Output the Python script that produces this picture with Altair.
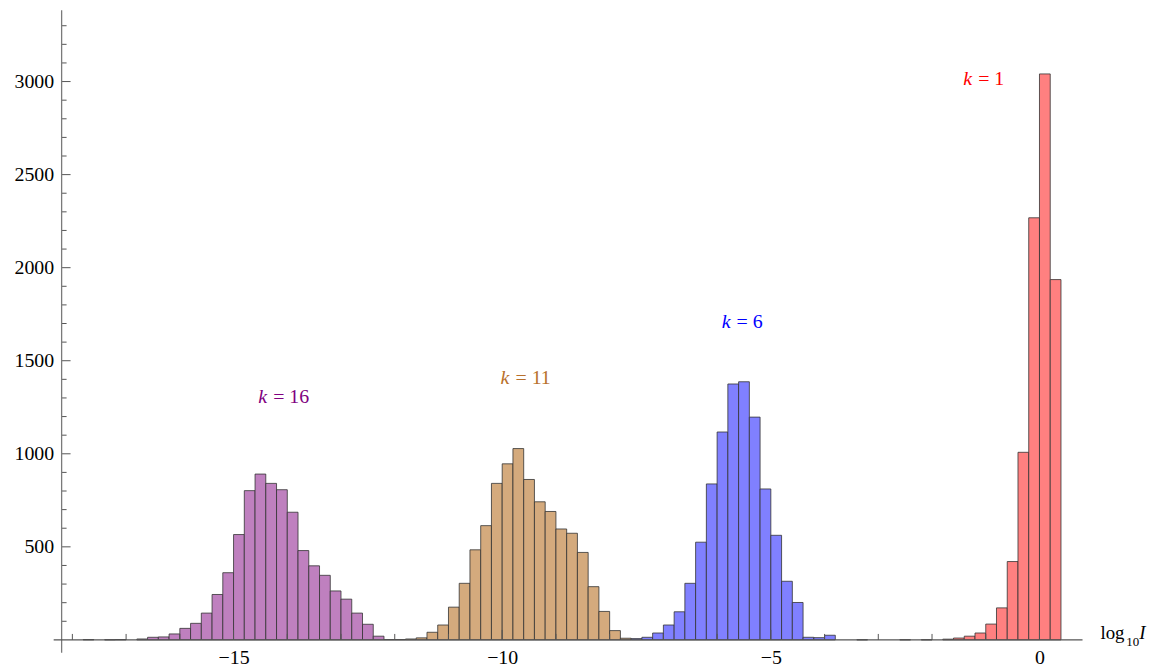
import altair as alt
import pandas as pd

# ---- data (bin width 0.2 in log10 I) ----
BIN = 0.2
series_names = ["k = 16", "k = 11", "k = 6", "k = 1"]
bin_starts = [-17.8, -12.2, -7.6, -2.6]
counts_k16 = [2, 0, 1, 2, 0, 5, 14, 16, 32, 62, 89, 144, 244, 361, 566, 802, 891,
              841, 807, 686, 480, 398, 347, 263, 219, 144, 84, 20]
counts_k11 = [2, 2, 5, 11, 41, 80, 176, 304, 484, 614, 841, 946, 1028, 862, 742,
              690, 596, 573, 470, 286, 153, 50, 9]
counts_k6 = [7, 14, 37, 80, 151, 304, 525, 838, 1117, 1375, 1387, 1197, 811, 562,
             315, 201, 14, 12, 25, 0, 0, 1]
counts_k1 = [1, 0, 1, 0, 4, 10, 20, 37, 85, 172, 421, 1008, 2268, 3041, 1936]
all_counts = [counts_k16, counts_k11, counts_k6, counts_k1]

fill_colors = ["#BF80BF", "#D4AA7D", "#8080FF", "#FF8080"]
label_colors = ["#800080", "#B8702C", "#0000FF", "#FF0000"]
label_rest = ["= 16", "= 11", "= 6", "= 1"]
label_x = [-14.54, -10.03, -5.915, -1.418]
label_y = [1275, 1377, 1676, 2983]

y_major = [500, 1000, 1500, 2000, 2500, 3000]
y_minor = [v for v in range(100, 3400, 100) if v % 500]
x_major = [-15, -10, -5, 0]
x_minor = [v for v in range(-18, 1) if v % 5]

rows = []
for name, s0, cnts in zip(series_names, bin_starts, all_counts):
    for i, c in enumerate(cnts):
        if c > 0:
            a = round(s0 + i * BIN, 2)
            rows.append({"series": name, "start": a, "end": round(a + BIN, 2), "count": c})
df = pd.DataFrame(rows)

W, H = 1009, 634
FONT = "Liberation Serif"
xs = alt.Scale(domain=[-18.2, 0.45], nice=False, zero=False)
ys = alt.Scale(domain=[0, 3383], nice=False, zero=True)

ax_x = alt.Axis(values=x_major, format="d", domain=False, ticks=False, tickSize=0, grid=False,
                labelPadding=8, labelFontSize=20, labelFont=FONT, labelColor="black",
                labelFlush=False, title=None)
ax_y = alt.Axis(values=y_major, format="d", domain=False, ticks=False, tickSize=0, grid=False,
                labelPadding=8, labelFontSize=20, labelFont=FONT, labelColor="black",
                title=None)


def X(field):
    return alt.X(field, scale=xs, axis=ax_x)


def Y(field):
    return alt.Y(field, scale=ys, axis=ax_y)


bars = alt.Chart(df).mark_rect(stroke="#333333", strokeWidth=1, strokeOpacity=0.8).encode(
    x=X("start:Q"),
    x2="end:Q",
    y=Y("count:Q"),
    y2=alt.datum(0),
    color=alt.Color("series:N", scale=alt.Scale(domain=series_names, range=fill_colors), legend=None),
)

tick_col = "#555555"
ytick_major = alt.Chart(pd.DataFrame({"v": y_major})).mark_rule(color=tick_col).encode(
    y=Y("v:Q"), x=alt.value(0), x2=alt.value(9))
ytick_minor = alt.Chart(pd.DataFrame({"v": y_minor})).mark_rule(color=tick_col).encode(
    y=Y("v:Q"), x=alt.value(0), x2=alt.value(5))
xtick_major = alt.Chart(pd.DataFrame({"v": x_major})).mark_rule(color=tick_col).encode(
    x=X("v:Q"), y=alt.value(H), y2=alt.value(H - 10))
xtick_minor = alt.Chart(pd.DataFrame({"v": x_minor})).mark_rule(color=tick_col).encode(
    x=X("v:Q"), y=alt.value(H), y2=alt.value(H - 6))

one = pd.DataFrame({"a": [0]})
yaxis_line = alt.Chart(one).mark_rule(color="#7a7a7a", strokeWidth=1.3).encode(
    x=alt.value(0), y=alt.value(0), y2=alt.value(H + 13))
xaxis_line = alt.Chart(one).mark_rule(color="#555555", strokeWidth=1.2).encode(
    x=alt.value(-8), x2=alt.value(W + 19), y=alt.value(H))

lab_df = pd.DataFrame({"x": label_x, "y": label_y, "rest": label_rest,
                       "col": label_colors, "k": ["k"] * 4})
k_text = alt.Chart(lab_df).mark_text(font=FONT, fontSize=20, fontStyle="italic",
                                     align="left", baseline="alphabetic").encode(
    x=X("x:Q"), y=Y("y:Q"),
    text="k:N", color=alt.Color("col:N", scale=None))
rest_text = alt.Chart(lab_df).mark_text(font=FONT, fontSize=20, align="left",
                                        baseline="alphabetic", dx=15).encode(
    x=X("x:Q"), y=Y("y:Q"),
    text="rest:N", color=alt.Color("col:N", scale=None))

t_log = alt.Chart(one).mark_text(font=FONT, fontSize=19, align="left", baseline="alphabetic",
                                 color="black", text="log").encode(
    x=alt.value(1046), y=alt.value(633))
t_10 = alt.Chart(one).mark_text(font=FONT, fontSize=13, align="left", baseline="alphabetic",
                                color="black", text="10").encode(
    x=alt.value(1072), y=alt.value(640))
t_I = alt.Chart(one).mark_text(font=FONT, fontSize=19, fontStyle="italic", align="left",
                               baseline="alphabetic", color="black", text="I").encode(
    x=alt.value(1085), y=alt.value(633))

chart = alt.layer(
    bars, ytick_major, ytick_minor, xtick_major, xtick_minor, yaxis_line, xaxis_line,
    k_text, rest_text, t_log, t_10, t_I
).properties(
    width=W, height=H,
    autosize=alt.AutoSizeParams(type="none"),
    padding={"left": 54, "top": 0, "right": 95, "bottom": 26},
    background="white",
).configure_view(stroke=None)

chart.save("out.html", embed_options={"renderer": "svg", "actions": False})
